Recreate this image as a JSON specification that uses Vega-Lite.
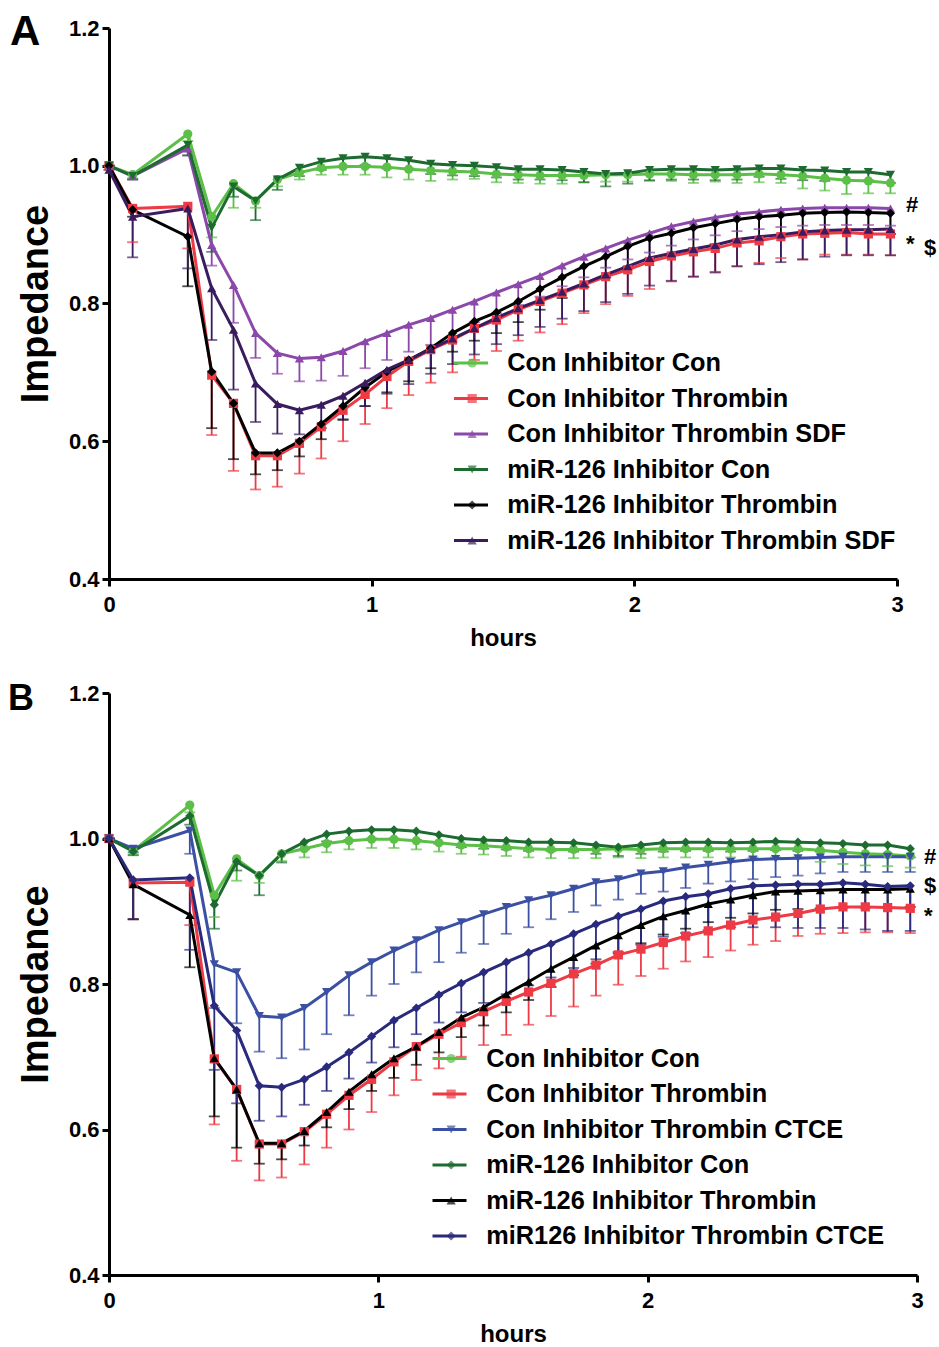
{
"$schema": "https://vega.github.io/schema/vega-lite/v6.json",
"background": "white",
"padding": {"left": 7, "top": 11, "right": 0, "bottom": 0},
"config": {
 "view": {"stroke": null},
 "font": "Liberation Sans",
 "axis": {"domainColor": "black", "domainWidth": 3, "tickColor": "black", "tickWidth": 3, "tickSize": 7, "labelFont": "Liberation Sans", "labelFontSize": 22, "labelFontWeight": "bold", "labelColor": "black", "labelFlush": false, "titleFont": "Liberation Sans", "titleFontWeight": "bold", "titleColor": "black", "grid": false},
 "axisX": {"labelPadding": 8.5, "titleFontSize": 24, "titlePadding": 10.5},
 "axisY": {"labelPadding": 3, "titleFontSize": 38, "titlePadding": 12.5},
 "title": {"font": "Liberation Sans", "fontWeight": "bold", "color": "black"},
 "legend": {"title": null, "orient": "none", "rowPadding": 9.5, "clipHeight": 25, "labelFontSize": 25.3, "labelFont": "Liberation Sans", "labelFontWeight": "bold", "labelColor": "black", "labelLimit": 600}
},
"spacing": 31,
"resolve": {"scale": {"color": "independent", "stroke": "independent", "shape": "independent", "x": "independent", "y": "independent"}, "legend": {"color": "independent", "stroke": "independent", "shape": "independent"}},
"datasets": {
"A": [
{"s":"Con Inhibitor Con","t":0,"v":1,"lo":1},
{"s":"Con Inhibitor Con","t":0.09,"v":0.987,"lo":0.982},
{"s":"Con Inhibitor Con","t":0.3,"v":1.046,"lo":1.036},
{"s":"Con Inhibitor Con","t":0.391,"v":0.926,"lo":0.896},
{"s":"Con Inhibitor Con","t":0.474,"v":0.974,"lo":0.939},
{"s":"Con Inhibitor Con","t":0.558,"v":0.949,"lo":0.939},
{"s":"Con Inhibitor Con","t":0.641,"v":0.98,"lo":0.97},
{"s":"Con Inhibitor Con","t":0.725,"v":0.99,"lo":0.98},
{"s":"Con Inhibitor Con","t":0.808,"v":0.997,"lo":0.987},
{"s":"Con Inhibitor Con","t":0.891,"v":0.999,"lo":0.987},
{"s":"Con Inhibitor Con","t":0.975,"v":0.999,"lo":0.987},
{"s":"Con Inhibitor Con","t":1.058,"v":0.998,"lo":0.983},
{"s":"Con Inhibitor Con","t":1.141,"v":0.995,"lo":0.98},
{"s":"Con Inhibitor Con","t":1.225,"v":0.993,"lo":0.978},
{"s":"Con Inhibitor Con","t":1.308,"v":0.992,"lo":0.98},
{"s":"Con Inhibitor Con","t":1.391,"v":0.991,"lo":0.981},
{"s":"Con Inhibitor Con","t":1.475,"v":0.988,"lo":0.976},
{"s":"Con Inhibitor Con","t":1.558,"v":0.987,"lo":0.975},
{"s":"Con Inhibitor Con","t":1.641,"v":0.986,"lo":0.974},
{"s":"Con Inhibitor Con","t":1.725,"v":0.986,"lo":0.974},
{"s":"Con Inhibitor Con","t":1.808,"v":0.986,"lo":0.976},
{"s":"Con Inhibitor Con","t":1.891,"v":0.987,"lo":0.977},
{"s":"Con Inhibitor Con","t":1.975,"v":0.987,"lo":0.977},
{"s":"Con Inhibitor Con","t":2.058,"v":0.988,"lo":0.978},
{"s":"Con Inhibitor Con","t":2.141,"v":0.988,"lo":0.978},
{"s":"Con Inhibitor Con","t":2.225,"v":0.987,"lo":0.975},
{"s":"Con Inhibitor Con","t":2.308,"v":0.987,"lo":0.977},
{"s":"Con Inhibitor Con","t":2.391,"v":0.987,"lo":0.975},
{"s":"Con Inhibitor Con","t":2.475,"v":0.988,"lo":0.976},
{"s":"Con Inhibitor Con","t":2.558,"v":0.987,"lo":0.975},
{"s":"Con Inhibitor Con","t":2.641,"v":0.985,"lo":0.967},
{"s":"Con Inhibitor Con","t":2.725,"v":0.982,"lo":0.964},
{"s":"Con Inhibitor Con","t":2.808,"v":0.979,"lo":0.959},
{"s":"Con Inhibitor Con","t":2.891,"v":0.978,"lo":0.96},
{"s":"Con Inhibitor Con","t":2.975,"v":0.975,"lo":0.96},
{"s":"Con Inhibitor Thrombin","t":0,"v":1,"lo":1},
{"s":"Con Inhibitor Thrombin","t":0.09,"v":0.938,"lo":0.889},
{"s":"Con Inhibitor Thrombin","t":0.3,"v":0.941,"lo":0.88},
{"s":"Con Inhibitor Thrombin","t":0.391,"v":0.696,"lo":0.609},
{"s":"Con Inhibitor Thrombin","t":0.474,"v":0.655,"lo":0.557},
{"s":"Con Inhibitor Thrombin","t":0.558,"v":0.579,"lo":0.53},
{"s":"Con Inhibitor Thrombin","t":0.641,"v":0.579,"lo":0.534},
{"s":"Con Inhibitor Thrombin","t":0.725,"v":0.597,"lo":0.553},
{"s":"Con Inhibitor Thrombin","t":0.808,"v":0.621,"lo":0.575},
{"s":"Con Inhibitor Thrombin","t":0.891,"v":0.645,"lo":0.6},
{"s":"Con Inhibitor Thrombin","t":0.975,"v":0.668,"lo":0.625},
{"s":"Con Inhibitor Thrombin","t":1.058,"v":0.694,"lo":0.648},
{"s":"Con Inhibitor Thrombin","t":1.141,"v":0.716,"lo":0.667},
{"s":"Con Inhibitor Thrombin","t":1.225,"v":0.733,"lo":0.685},
{"s":"Con Inhibitor Thrombin","t":1.308,"v":0.747,"lo":0.7},
{"s":"Con Inhibitor Thrombin","t":1.391,"v":0.764,"lo":0.718},
{"s":"Con Inhibitor Thrombin","t":1.475,"v":0.776,"lo":0.731},
{"s":"Con Inhibitor Thrombin","t":1.558,"v":0.791,"lo":0.746},
{"s":"Con Inhibitor Thrombin","t":1.641,"v":0.803,"lo":0.758},
{"s":"Con Inhibitor Thrombin","t":1.725,"v":0.815,"lo":0.77},
{"s":"Con Inhibitor Thrombin","t":1.808,"v":0.827,"lo":0.786},
{"s":"Con Inhibitor Thrombin","t":1.891,"v":0.839,"lo":0.799},
{"s":"Con Inhibitor Thrombin","t":1.975,"v":0.849,"lo":0.811},
{"s":"Con Inhibitor Thrombin","t":2.058,"v":0.861,"lo":0.821},
{"s":"Con Inhibitor Thrombin","t":2.141,"v":0.869,"lo":0.832},
{"s":"Con Inhibitor Thrombin","t":2.225,"v":0.875,"lo":0.839},
{"s":"Con Inhibitor Thrombin","t":2.308,"v":0.88,"lo":0.846},
{"s":"Con Inhibitor Thrombin","t":2.391,"v":0.888,"lo":0.854},
{"s":"Con Inhibitor Thrombin","t":2.475,"v":0.891,"lo":0.859},
{"s":"Con Inhibitor Thrombin","t":2.558,"v":0.897,"lo":0.866},
{"s":"Con Inhibitor Thrombin","t":2.641,"v":0.901,"lo":0.864},
{"s":"Con Inhibitor Thrombin","t":2.725,"v":0.902,"lo":0.871},
{"s":"Con Inhibitor Thrombin","t":2.808,"v":0.903,"lo":0.871},
{"s":"Con Inhibitor Thrombin","t":2.891,"v":0.901,"lo":0.871},
{"s":"Con Inhibitor Thrombin","t":2.975,"v":0.901,"lo":0.87},
{"s":"Con Inhibitor Thrombin SDF","t":0,"v":1,"lo":1},
{"s":"Con Inhibitor Thrombin SDF","t":0.09,"v":0.985,"lo":0.98},
{"s":"Con Inhibitor Thrombin SDF","t":0.3,"v":1.025,"lo":1.015},
{"s":"Con Inhibitor Thrombin SDF","t":0.391,"v":0.885,"lo":0.855},
{"s":"Con Inhibitor Thrombin SDF","t":0.474,"v":0.827,"lo":0.772},
{"s":"Con Inhibitor Thrombin SDF","t":0.558,"v":0.757,"lo":0.721},
{"s":"Con Inhibitor Thrombin SDF","t":0.641,"v":0.728,"lo":0.698},
{"s":"Con Inhibitor Thrombin SDF","t":0.725,"v":0.72,"lo":0.687},
{"s":"Con Inhibitor Thrombin SDF","t":0.808,"v":0.722,"lo":0.688},
{"s":"Con Inhibitor Thrombin SDF","t":0.891,"v":0.731,"lo":0.695},
{"s":"Con Inhibitor Thrombin SDF","t":0.975,"v":0.745,"lo":0.706},
{"s":"Con Inhibitor Thrombin SDF","t":1.058,"v":0.757,"lo":0.718},
{"s":"Con Inhibitor Thrombin SDF","t":1.141,"v":0.769,"lo":0.73},
{"s":"Con Inhibitor Thrombin SDF","t":1.225,"v":0.779,"lo":0.74},
{"s":"Con Inhibitor Thrombin SDF","t":1.308,"v":0.791,"lo":0.752},
{"s":"Con Inhibitor Thrombin SDF","t":1.391,"v":0.803,"lo":0.773},
{"s":"Con Inhibitor Thrombin SDF","t":1.475,"v":0.816,"lo":0.786},
{"s":"Con Inhibitor Thrombin SDF","t":1.558,"v":0.828,"lo":0.798},
{"s":"Con Inhibitor Thrombin SDF","t":1.641,"v":0.84,"lo":0.81},
{"s":"Con Inhibitor Thrombin SDF","t":1.725,"v":0.855,"lo":0.825},
{"s":"Con Inhibitor Thrombin SDF","t":1.808,"v":0.868,"lo":0.838},
{"s":"Con Inhibitor Thrombin SDF","t":1.891,"v":0.88,"lo":0.852},
{"s":"Con Inhibitor Thrombin SDF","t":1.975,"v":0.892,"lo":0.864},
{"s":"Con Inhibitor Thrombin SDF","t":2.058,"v":0.902,"lo":0.874},
{"s":"Con Inhibitor Thrombin SDF","t":2.141,"v":0.912,"lo":0.884},
{"s":"Con Inhibitor Thrombin SDF","t":2.225,"v":0.919,"lo":0.893},
{"s":"Con Inhibitor Thrombin SDF","t":2.308,"v":0.925,"lo":0.899},
{"s":"Con Inhibitor Thrombin SDF","t":2.391,"v":0.93,"lo":0.905},
{"s":"Con Inhibitor Thrombin SDF","t":2.475,"v":0.933,"lo":0.908},
{"s":"Con Inhibitor Thrombin SDF","t":2.558,"v":0.936,"lo":0.911},
{"s":"Con Inhibitor Thrombin SDF","t":2.641,"v":0.938,"lo":0.913},
{"s":"Con Inhibitor Thrombin SDF","t":2.725,"v":0.939,"lo":0.914},
{"s":"Con Inhibitor Thrombin SDF","t":2.808,"v":0.939,"lo":0.914},
{"s":"Con Inhibitor Thrombin SDF","t":2.891,"v":0.939,"lo":0.914},
{"s":"Con Inhibitor Thrombin SDF","t":2.975,"v":0.938,"lo":0.913},
{"s":"miR-126 Inhibitor Con","t":0,"v":1,"lo":1},
{"s":"miR-126 Inhibitor Con","t":0.09,"v":0.985,"lo":0.98},
{"s":"miR-126 Inhibitor Con","t":0.3,"v":1.03,"lo":1.015},
{"s":"miR-126 Inhibitor Con","t":0.391,"v":0.91,"lo":0.875},
{"s":"miR-126 Inhibitor Con","t":0.474,"v":0.97,"lo":0.955},
{"s":"miR-126 Inhibitor Con","t":0.558,"v":0.949,"lo":0.921},
{"s":"miR-126 Inhibitor Con","t":0.641,"v":0.98,"lo":0.965},
{"s":"miR-126 Inhibitor Con","t":0.725,"v":0.997,"lo":0.985},
{"s":"miR-126 Inhibitor Con","t":0.808,"v":1.006,"lo":0.994},
{"s":"miR-126 Inhibitor Con","t":0.891,"v":1.011,"lo":0.999},
{"s":"miR-126 Inhibitor Con","t":0.975,"v":1.013,"lo":1.001},
{"s":"miR-126 Inhibitor Con","t":1.058,"v":1.011,"lo":0.996},
{"s":"miR-126 Inhibitor Con","t":1.141,"v":1.008,"lo":0.996},
{"s":"miR-126 Inhibitor Con","t":1.225,"v":1.003,"lo":0.988},
{"s":"miR-126 Inhibitor Con","t":1.308,"v":1.001,"lo":0.986},
{"s":"miR-126 Inhibitor Con","t":1.391,"v":1,"lo":0.985},
{"s":"miR-126 Inhibitor Con","t":1.475,"v":0.998,"lo":0.983},
{"s":"miR-126 Inhibitor Con","t":1.558,"v":0.995,"lo":0.98},
{"s":"miR-126 Inhibitor Con","t":1.641,"v":0.995,"lo":0.98},
{"s":"miR-126 Inhibitor Con","t":1.725,"v":0.994,"lo":0.979},
{"s":"miR-126 Inhibitor Con","t":1.808,"v":0.991,"lo":0.976},
{"s":"miR-126 Inhibitor Con","t":1.891,"v":0.988,"lo":0.97},
{"s":"miR-126 Inhibitor Con","t":1.975,"v":0.989,"lo":0.974},
{"s":"miR-126 Inhibitor Con","t":2.058,"v":0.994,"lo":0.979},
{"s":"miR-126 Inhibitor Con","t":2.141,"v":0.995,"lo":0.98},
{"s":"miR-126 Inhibitor Con","t":2.225,"v":0.995,"lo":0.98},
{"s":"miR-126 Inhibitor Con","t":2.308,"v":0.994,"lo":0.979},
{"s":"miR-126 Inhibitor Con","t":2.391,"v":0.995,"lo":0.98},
{"s":"miR-126 Inhibitor Con","t":2.475,"v":0.996,"lo":0.984},
{"s":"miR-126 Inhibitor Con","t":2.558,"v":0.996,"lo":0.981},
{"s":"miR-126 Inhibitor Con","t":2.641,"v":0.994,"lo":0.979},
{"s":"miR-126 Inhibitor Con","t":2.725,"v":0.993,"lo":0.978},
{"s":"miR-126 Inhibitor Con","t":2.808,"v":0.991,"lo":0.979},
{"s":"miR-126 Inhibitor Con","t":2.891,"v":0.991,"lo":0.979},
{"s":"miR-126 Inhibitor Con","t":2.975,"v":0.987,"lo":0.975},
{"s":"miR-126 Inhibitor Thrombin","t":0,"v":1,"lo":1},
{"s":"miR-126 Inhibitor Thrombin","t":0.09,"v":0.936,"lo":0.926},
{"s":"miR-126 Inhibitor Thrombin","t":0.3,"v":0.897,"lo":0.825},
{"s":"miR-126 Inhibitor Thrombin","t":0.391,"v":0.701,"lo":0.619},
{"s":"miR-126 Inhibitor Thrombin","t":0.474,"v":0.655,"lo":0.574},
{"s":"miR-126 Inhibitor Thrombin","t":0.558,"v":0.583,"lo":0.552},
{"s":"miR-126 Inhibitor Thrombin","t":0.641,"v":0.583,"lo":0.558},
{"s":"miR-126 Inhibitor Thrombin","t":0.725,"v":0.6,"lo":0.578},
{"s":"miR-126 Inhibitor Thrombin","t":0.808,"v":0.625,"lo":0.603},
{"s":"miR-126 Inhibitor Thrombin","t":0.891,"v":0.651,"lo":0.631},
{"s":"miR-126 Inhibitor Thrombin","t":0.975,"v":0.678,"lo":0.651},
{"s":"miR-126 Inhibitor Thrombin","t":1.058,"v":0.701,"lo":0.671},
{"s":"miR-126 Inhibitor Thrombin","t":1.141,"v":0.718,"lo":0.687},
{"s":"miR-126 Inhibitor Thrombin","t":1.225,"v":0.735,"lo":0.706},
{"s":"miR-126 Inhibitor Thrombin","t":1.308,"v":0.757,"lo":0.73},
{"s":"miR-126 Inhibitor Thrombin","t":1.391,"v":0.774,"lo":0.746},
{"s":"miR-126 Inhibitor Thrombin","t":1.475,"v":0.787,"lo":0.757},
{"s":"miR-126 Inhibitor Thrombin","t":1.558,"v":0.803,"lo":0.773},
{"s":"miR-126 Inhibitor Thrombin","t":1.641,"v":0.821,"lo":0.791},
{"s":"miR-126 Inhibitor Thrombin","t":1.725,"v":0.838,"lo":0.808},
{"s":"miR-126 Inhibitor Thrombin","t":1.808,"v":0.854,"lo":0.824},
{"s":"miR-126 Inhibitor Thrombin","t":1.891,"v":0.868,"lo":0.838},
{"s":"miR-126 Inhibitor Thrombin","t":1.975,"v":0.883,"lo":0.853},
{"s":"miR-126 Inhibitor Thrombin","t":2.058,"v":0.895,"lo":0.865},
{"s":"miR-126 Inhibitor Thrombin","t":2.141,"v":0.902,"lo":0.872},
{"s":"miR-126 Inhibitor Thrombin","t":2.225,"v":0.91,"lo":0.88},
{"s":"miR-126 Inhibitor Thrombin","t":2.308,"v":0.916,"lo":0.886},
{"s":"miR-126 Inhibitor Thrombin","t":2.391,"v":0.922,"lo":0.892},
{"s":"miR-126 Inhibitor Thrombin","t":2.475,"v":0.926,"lo":0.896},
{"s":"miR-126 Inhibitor Thrombin","t":2.558,"v":0.928,"lo":0.898},
{"s":"miR-126 Inhibitor Thrombin","t":2.641,"v":0.931,"lo":0.901},
{"s":"miR-126 Inhibitor Thrombin","t":2.725,"v":0.932,"lo":0.902},
{"s":"miR-126 Inhibitor Thrombin","t":2.808,"v":0.933,"lo":0.903},
{"s":"miR-126 Inhibitor Thrombin","t":2.891,"v":0.932,"lo":0.902},
{"s":"miR-126 Inhibitor Thrombin","t":2.975,"v":0.931,"lo":0.901},
{"s":"miR-126 Inhibitor Thrombin SDF","t":0,"v":0.994,"lo":0.994},
{"s":"miR-126 Inhibitor Thrombin SDF","t":0.09,"v":0.926,"lo":0.867},
{"s":"miR-126 Inhibitor Thrombin SDF","t":0.3,"v":0.938,"lo":0.851},
{"s":"miR-126 Inhibitor Thrombin SDF","t":0.391,"v":0.822,"lo":0.747},
{"s":"miR-126 Inhibitor Thrombin SDF","t":0.474,"v":0.762,"lo":0.675},
{"s":"miR-126 Inhibitor Thrombin SDF","t":0.558,"v":0.684,"lo":0.628},
{"s":"miR-126 Inhibitor Thrombin SDF","t":0.641,"v":0.654,"lo":0.611},
{"s":"miR-126 Inhibitor Thrombin SDF","t":0.725,"v":0.645,"lo":0.61},
{"s":"miR-126 Inhibitor Thrombin SDF","t":0.808,"v":0.653,"lo":0.619},
{"s":"miR-126 Inhibitor Thrombin SDF","t":0.891,"v":0.666,"lo":0.632},
{"s":"miR-126 Inhibitor Thrombin SDF","t":0.975,"v":0.685,"lo":0.651},
{"s":"miR-126 Inhibitor Thrombin SDF","t":1.058,"v":0.704,"lo":0.669},
{"s":"miR-126 Inhibitor Thrombin SDF","t":1.141,"v":0.718,"lo":0.683},
{"s":"miR-126 Inhibitor Thrombin SDF","t":1.225,"v":0.734,"lo":0.698},
{"s":"miR-126 Inhibitor Thrombin SDF","t":1.308,"v":0.749,"lo":0.712},
{"s":"miR-126 Inhibitor Thrombin SDF","t":1.391,"v":0.764,"lo":0.726},
{"s":"miR-126 Inhibitor Thrombin SDF","t":1.475,"v":0.779,"lo":0.741},
{"s":"miR-126 Inhibitor Thrombin SDF","t":1.558,"v":0.793,"lo":0.754},
{"s":"miR-126 Inhibitor Thrombin SDF","t":1.641,"v":0.805,"lo":0.766},
{"s":"miR-126 Inhibitor Thrombin SDF","t":1.725,"v":0.817,"lo":0.778},
{"s":"miR-126 Inhibitor Thrombin SDF","t":1.808,"v":0.829,"lo":0.789},
{"s":"miR-126 Inhibitor Thrombin SDF","t":1.891,"v":0.842,"lo":0.802},
{"s":"miR-126 Inhibitor Thrombin SDF","t":1.975,"v":0.854,"lo":0.814},
{"s":"miR-126 Inhibitor Thrombin SDF","t":2.058,"v":0.866,"lo":0.826},
{"s":"miR-126 Inhibitor Thrombin SDF","t":2.141,"v":0.873,"lo":0.833},
{"s":"miR-126 Inhibitor Thrombin SDF","t":2.225,"v":0.879,"lo":0.839},
{"s":"miR-126 Inhibitor Thrombin SDF","t":2.308,"v":0.885,"lo":0.845},
{"s":"miR-126 Inhibitor Thrombin SDF","t":2.391,"v":0.893,"lo":0.854},
{"s":"miR-126 Inhibitor Thrombin SDF","t":2.475,"v":0.897,"lo":0.857},
{"s":"miR-126 Inhibitor Thrombin SDF","t":2.558,"v":0.9,"lo":0.86},
{"s":"miR-126 Inhibitor Thrombin SDF","t":2.641,"v":0.904,"lo":0.864},
{"s":"miR-126 Inhibitor Thrombin SDF","t":2.725,"v":0.906,"lo":0.868},
{"s":"miR-126 Inhibitor Thrombin SDF","t":2.808,"v":0.907,"lo":0.87},
{"s":"miR-126 Inhibitor Thrombin SDF","t":2.891,"v":0.907,"lo":0.87},
{"s":"miR-126 Inhibitor Thrombin SDF","t":2.975,"v":0.908,"lo":0.87}
],
"B": [
{"s":"Con Inhibitor Con","t":0,"v":1,"lo":1},
{"s":"Con Inhibitor Con","t":0.09,"v":0.983,"lo":0.978},
{"s":"Con Inhibitor Con","t":0.3,"v":1.046,"lo":1.036},
{"s":"Con Inhibitor Con","t":0.391,"v":0.922,"lo":0.892},
{"s":"Con Inhibitor Con","t":0.474,"v":0.972,"lo":0.942},
{"s":"Con Inhibitor Con","t":0.558,"v":0.949,"lo":0.939},
{"s":"Con Inhibitor Con","t":0.641,"v":0.979,"lo":0.969},
{"s":"Con Inhibitor Con","t":0.725,"v":0.986,"lo":0.974},
{"s":"Con Inhibitor Con","t":0.808,"v":0.993,"lo":0.981},
{"s":"Con Inhibitor Con","t":0.891,"v":0.997,"lo":0.985},
{"s":"Con Inhibitor Con","t":0.975,"v":0.999,"lo":0.987},
{"s":"Con Inhibitor Con","t":1.058,"v":0.999,"lo":0.987},
{"s":"Con Inhibitor Con","t":1.141,"v":0.997,"lo":0.985},
{"s":"Con Inhibitor Con","t":1.225,"v":0.994,"lo":0.982},
{"s":"Con Inhibitor Con","t":1.308,"v":0.991,"lo":0.979},
{"s":"Con Inhibitor Con","t":1.391,"v":0.99,"lo":0.978},
{"s":"Con Inhibitor Con","t":1.475,"v":0.988,"lo":0.976},
{"s":"Con Inhibitor Con","t":1.558,"v":0.986,"lo":0.974},
{"s":"Con Inhibitor Con","t":1.641,"v":0.985,"lo":0.973},
{"s":"Con Inhibitor Con","t":1.725,"v":0.985,"lo":0.973},
{"s":"Con Inhibitor Con","t":1.808,"v":0.985,"lo":0.973},
{"s":"Con Inhibitor Con","t":1.891,"v":0.986,"lo":0.974},
{"s":"Con Inhibitor Con","t":1.975,"v":0.985,"lo":0.973},
{"s":"Con Inhibitor Con","t":2.058,"v":0.986,"lo":0.974},
{"s":"Con Inhibitor Con","t":2.141,"v":0.986,"lo":0.974},
{"s":"Con Inhibitor Con","t":2.225,"v":0.986,"lo":0.974},
{"s":"Con Inhibitor Con","t":2.308,"v":0.986,"lo":0.974},
{"s":"Con Inhibitor Con","t":2.391,"v":0.986,"lo":0.974},
{"s":"Con Inhibitor Con","t":2.475,"v":0.986,"lo":0.974},
{"s":"Con Inhibitor Con","t":2.558,"v":0.986,"lo":0.974},
{"s":"Con Inhibitor Con","t":2.641,"v":0.984,"lo":0.968},
{"s":"Con Inhibitor Con","t":2.725,"v":0.981,"lo":0.965},
{"s":"Con Inhibitor Con","t":2.808,"v":0.979,"lo":0.963},
{"s":"Con Inhibitor Con","t":2.891,"v":0.978,"lo":0.962},
{"s":"Con Inhibitor Con","t":2.975,"v":0.976,"lo":0.96},
{"s":"Con Inhibitor Thrombin","t":0,"v":1,"lo":1},
{"s":"Con Inhibitor Thrombin","t":0.09,"v":0.939,"lo":0.889},
{"s":"Con Inhibitor Thrombin","t":0.3,"v":0.94,"lo":0.881},
{"s":"Con Inhibitor Thrombin","t":0.391,"v":0.697,"lo":0.607},
{"s":"Con Inhibitor Thrombin","t":0.474,"v":0.655,"lo":0.557},
{"s":"Con Inhibitor Thrombin","t":0.558,"v":0.58,"lo":0.53},
{"s":"Con Inhibitor Thrombin","t":0.641,"v":0.58,"lo":0.534},
{"s":"Con Inhibitor Thrombin","t":0.725,"v":0.597,"lo":0.552},
{"s":"Con Inhibitor Thrombin","t":0.808,"v":0.621,"lo":0.575},
{"s":"Con Inhibitor Thrombin","t":0.891,"v":0.647,"lo":0.6},
{"s":"Con Inhibitor Thrombin","t":0.975,"v":0.669,"lo":0.624},
{"s":"Con Inhibitor Thrombin","t":1.058,"v":0.693,"lo":0.647},
{"s":"Con Inhibitor Thrombin","t":1.141,"v":0.714,"lo":0.668},
{"s":"Con Inhibitor Thrombin","t":1.225,"v":0.731,"lo":0.684},
{"s":"Con Inhibitor Thrombin","t":1.308,"v":0.747,"lo":0.7},
{"s":"Con Inhibitor Thrombin","t":1.391,"v":0.762,"lo":0.716},
{"s":"Con Inhibitor Thrombin","t":1.475,"v":0.776,"lo":0.73},
{"s":"Con Inhibitor Thrombin","t":1.558,"v":0.789,"lo":0.744},
{"s":"Con Inhibitor Thrombin","t":1.641,"v":0.801,"lo":0.756},
{"s":"Con Inhibitor Thrombin","t":1.725,"v":0.814,"lo":0.769},
{"s":"Con Inhibitor Thrombin","t":1.808,"v":0.826,"lo":0.784},
{"s":"Con Inhibitor Thrombin","t":1.891,"v":0.84,"lo":0.799},
{"s":"Con Inhibitor Thrombin","t":1.975,"v":0.848,"lo":0.811},
{"s":"Con Inhibitor Thrombin","t":2.058,"v":0.857,"lo":0.821},
{"s":"Con Inhibitor Thrombin","t":2.141,"v":0.866,"lo":0.831},
{"s":"Con Inhibitor Thrombin","t":2.225,"v":0.873,"lo":0.837},
{"s":"Con Inhibitor Thrombin","t":2.308,"v":0.881,"lo":0.846},
{"s":"Con Inhibitor Thrombin","t":2.391,"v":0.888,"lo":0.854},
{"s":"Con Inhibitor Thrombin","t":2.475,"v":0.892,"lo":0.859},
{"s":"Con Inhibitor Thrombin","t":2.558,"v":0.897,"lo":0.866},
{"s":"Con Inhibitor Thrombin","t":2.641,"v":0.903,"lo":0.869},
{"s":"Con Inhibitor Thrombin","t":2.725,"v":0.906,"lo":0.87},
{"s":"Con Inhibitor Thrombin","t":2.808,"v":0.906,"lo":0.871},
{"s":"Con Inhibitor Thrombin","t":2.891,"v":0.905,"lo":0.871},
{"s":"Con Inhibitor Thrombin","t":2.975,"v":0.904,"lo":0.87},
{"s":"Con Inhibitor Thrombin CTCE","t":0,"v":1,"lo":1},
{"s":"Con Inhibitor Thrombin CTCE","t":0.09,"v":0.986,"lo":0.981},
{"s":"Con Inhibitor Thrombin CTCE","t":0.3,"v":1.011,"lo":0.979},
{"s":"Con Inhibitor Thrombin CTCE","t":0.391,"v":0.827,"lo":0.767},
{"s":"Con Inhibitor Thrombin CTCE","t":0.474,"v":0.816,"lo":0.746},
{"s":"Con Inhibitor Thrombin CTCE","t":0.558,"v":0.756,"lo":0.707},
{"s":"Con Inhibitor Thrombin CTCE","t":0.641,"v":0.754,"lo":0.698},
{"s":"Con Inhibitor Thrombin CTCE","t":0.725,"v":0.767,"lo":0.71},
{"s":"Con Inhibitor Thrombin CTCE","t":0.808,"v":0.789,"lo":0.731},
{"s":"Con Inhibitor Thrombin CTCE","t":0.891,"v":0.812,"lo":0.757},
{"s":"Con Inhibitor Thrombin CTCE","t":0.975,"v":0.83,"lo":0.784},
{"s":"Con Inhibitor Thrombin CTCE","t":1.058,"v":0.846,"lo":0.8},
{"s":"Con Inhibitor Thrombin CTCE","t":1.141,"v":0.86,"lo":0.816},
{"s":"Con Inhibitor Thrombin CTCE","t":1.225,"v":0.874,"lo":0.83},
{"s":"Con Inhibitor Thrombin CTCE","t":1.308,"v":0.885,"lo":0.843},
{"s":"Con Inhibitor Thrombin CTCE","t":1.391,"v":0.896,"lo":0.855},
{"s":"Con Inhibitor Thrombin CTCE","t":1.475,"v":0.906,"lo":0.869},
{"s":"Con Inhibitor Thrombin CTCE","t":1.558,"v":0.915,"lo":0.878},
{"s":"Con Inhibitor Thrombin CTCE","t":1.641,"v":0.922,"lo":0.889},
{"s":"Con Inhibitor Thrombin CTCE","t":1.725,"v":0.931,"lo":0.899},
{"s":"Con Inhibitor Thrombin CTCE","t":1.808,"v":0.94,"lo":0.908},
{"s":"Con Inhibitor Thrombin CTCE","t":1.891,"v":0.944,"lo":0.916},
{"s":"Con Inhibitor Thrombin CTCE","t":1.975,"v":0.952,"lo":0.924},
{"s":"Con Inhibitor Thrombin CTCE","t":2.058,"v":0.955,"lo":0.927},
{"s":"Con Inhibitor Thrombin CTCE","t":2.141,"v":0.96,"lo":0.932},
{"s":"Con Inhibitor Thrombin CTCE","t":2.225,"v":0.964,"lo":0.938},
{"s":"Con Inhibitor Thrombin CTCE","t":2.308,"v":0.968,"lo":0.941},
{"s":"Con Inhibitor Thrombin CTCE","t":2.391,"v":0.971,"lo":0.944},
{"s":"Con Inhibitor Thrombin CTCE","t":2.475,"v":0.972,"lo":0.947},
{"s":"Con Inhibitor Thrombin CTCE","t":2.558,"v":0.973,"lo":0.949},
{"s":"Con Inhibitor Thrombin CTCE","t":2.641,"v":0.974,"lo":0.952},
{"s":"Con Inhibitor Thrombin CTCE","t":2.725,"v":0.975,"lo":0.954},
{"s":"Con Inhibitor Thrombin CTCE","t":2.808,"v":0.975,"lo":0.954},
{"s":"Con Inhibitor Thrombin CTCE","t":2.891,"v":0.975,"lo":0.954},
{"s":"Con Inhibitor Thrombin CTCE","t":2.975,"v":0.975,"lo":0.954},
{"s":"miR-126 Inhibitor Con","t":0,"v":1,"lo":1},
{"s":"miR-126 Inhibitor Con","t":0.09,"v":0.982,"lo":0.977},
{"s":"miR-126 Inhibitor Con","t":0.3,"v":1.031,"lo":1.019},
{"s":"miR-126 Inhibitor Con","t":0.391,"v":0.909,"lo":0.876},
{"s":"miR-126 Inhibitor Con","t":0.474,"v":0.968,"lo":0.956},
{"s":"miR-126 Inhibitor Con","t":0.558,"v":0.949,"lo":0.922},
{"s":"miR-126 Inhibitor Con","t":0.641,"v":0.979,"lo":0.967},
{"s":"miR-126 Inhibitor Con","t":0.725,"v":0.995,"lo":0.985},
{"s":"miR-126 Inhibitor Con","t":0.808,"v":1.006,"lo":0.996},
{"s":"miR-126 Inhibitor Con","t":0.891,"v":1.01,"lo":0.998},
{"s":"miR-126 Inhibitor Con","t":0.975,"v":1.012,"lo":1},
{"s":"miR-126 Inhibitor Con","t":1.058,"v":1.012,"lo":1},
{"s":"miR-126 Inhibitor Con","t":1.141,"v":1.01,"lo":0.998},
{"s":"miR-126 Inhibitor Con","t":1.225,"v":1.005,"lo":0.993},
{"s":"miR-126 Inhibitor Con","t":1.308,"v":1,"lo":0.988},
{"s":"miR-126 Inhibitor Con","t":1.391,"v":0.998,"lo":0.986},
{"s":"miR-126 Inhibitor Con","t":1.475,"v":0.997,"lo":0.985},
{"s":"miR-126 Inhibitor Con","t":1.558,"v":0.995,"lo":0.983},
{"s":"miR-126 Inhibitor Con","t":1.641,"v":0.995,"lo":0.983},
{"s":"miR-126 Inhibitor Con","t":1.725,"v":0.994,"lo":0.982},
{"s":"miR-126 Inhibitor Con","t":1.808,"v":0.991,"lo":0.979},
{"s":"miR-126 Inhibitor Con","t":1.891,"v":0.988,"lo":0.976},
{"s":"miR-126 Inhibitor Con","t":1.975,"v":0.991,"lo":0.979},
{"s":"miR-126 Inhibitor Con","t":2.058,"v":0.994,"lo":0.982},
{"s":"miR-126 Inhibitor Con","t":2.141,"v":0.995,"lo":0.983},
{"s":"miR-126 Inhibitor Con","t":2.225,"v":0.995,"lo":0.983},
{"s":"miR-126 Inhibitor Con","t":2.308,"v":0.994,"lo":0.982},
{"s":"miR-126 Inhibitor Con","t":2.391,"v":0.995,"lo":0.983},
{"s":"miR-126 Inhibitor Con","t":2.475,"v":0.996,"lo":0.984},
{"s":"miR-126 Inhibitor Con","t":2.558,"v":0.995,"lo":0.983},
{"s":"miR-126 Inhibitor Con","t":2.641,"v":0.994,"lo":0.982},
{"s":"miR-126 Inhibitor Con","t":2.725,"v":0.993,"lo":0.981},
{"s":"miR-126 Inhibitor Con","t":2.808,"v":0.991,"lo":0.979},
{"s":"miR-126 Inhibitor Con","t":2.891,"v":0.991,"lo":0.979},
{"s":"miR-126 Inhibitor Con","t":2.975,"v":0.986,"lo":0.974},
{"s":"miR-126 Inhibitor Thrombin","t":0,"v":1,"lo":1},
{"s":"miR-126 Inhibitor Thrombin","t":0.09,"v":0.937,"lo":0.889},
{"s":"miR-126 Inhibitor Thrombin","t":0.3,"v":0.895,"lo":0.823},
{"s":"miR-126 Inhibitor Thrombin","t":0.391,"v":0.698,"lo":0.618},
{"s":"miR-126 Inhibitor Thrombin","t":0.474,"v":0.655,"lo":0.575},
{"s":"miR-126 Inhibitor Thrombin","t":0.558,"v":0.581,"lo":0.553},
{"s":"miR-126 Inhibitor Thrombin","t":0.641,"v":0.581,"lo":0.559},
{"s":"miR-126 Inhibitor Thrombin","t":0.725,"v":0.598,"lo":0.578},
{"s":"miR-126 Inhibitor Thrombin","t":0.808,"v":0.624,"lo":0.603},
{"s":"miR-126 Inhibitor Thrombin","t":0.891,"v":0.652,"lo":0.628},
{"s":"miR-126 Inhibitor Thrombin","t":0.975,"v":0.676,"lo":0.653},
{"s":"miR-126 Inhibitor Thrombin","t":1.058,"v":0.698,"lo":0.671},
{"s":"miR-126 Inhibitor Thrombin","t":1.141,"v":0.714,"lo":0.689},
{"s":"miR-126 Inhibitor Thrombin","t":1.225,"v":0.734,"lo":0.706},
{"s":"miR-126 Inhibitor Thrombin","t":1.308,"v":0.754,"lo":0.727},
{"s":"miR-126 Inhibitor Thrombin","t":1.391,"v":0.768,"lo":0.743},
{"s":"miR-126 Inhibitor Thrombin","t":1.475,"v":0.786,"lo":0.761},
{"s":"miR-126 Inhibitor Thrombin","t":1.558,"v":0.803,"lo":0.778},
{"s":"miR-126 Inhibitor Thrombin","t":1.641,"v":0.821,"lo":0.796},
{"s":"miR-126 Inhibitor Thrombin","t":1.725,"v":0.837,"lo":0.812},
{"s":"miR-126 Inhibitor Thrombin","t":1.808,"v":0.853,"lo":0.828},
{"s":"miR-126 Inhibitor Thrombin","t":1.891,"v":0.867,"lo":0.842},
{"s":"miR-126 Inhibitor Thrombin","t":1.975,"v":0.881,"lo":0.856},
{"s":"miR-126 Inhibitor Thrombin","t":2.058,"v":0.893,"lo":0.868},
{"s":"miR-126 Inhibitor Thrombin","t":2.141,"v":0.901,"lo":0.876},
{"s":"miR-126 Inhibitor Thrombin","t":2.225,"v":0.91,"lo":0.885},
{"s":"miR-126 Inhibitor Thrombin","t":2.308,"v":0.916,"lo":0.891},
{"s":"miR-126 Inhibitor Thrombin","t":2.391,"v":0.922,"lo":0.897},
{"s":"miR-126 Inhibitor Thrombin","t":2.475,"v":0.927,"lo":0.902},
{"s":"miR-126 Inhibitor Thrombin","t":2.558,"v":0.928,"lo":0.903},
{"s":"miR-126 Inhibitor Thrombin","t":2.641,"v":0.929,"lo":0.904},
{"s":"miR-126 Inhibitor Thrombin","t":2.725,"v":0.93,"lo":0.905},
{"s":"miR-126 Inhibitor Thrombin","t":2.808,"v":0.93,"lo":0.905},
{"s":"miR-126 Inhibitor Thrombin","t":2.891,"v":0.93,"lo":0.905},
{"s":"miR-126 Inhibitor Thrombin","t":2.975,"v":0.931,"lo":0.906},
{"s":"miR126 Inhibitor Thrombin CTCE","t":0,"v":1,"lo":1},
{"s":"miR126 Inhibitor Thrombin CTCE","t":0.09,"v":0.943,"lo":0.889},
{"s":"miR126 Inhibitor Thrombin CTCE","t":0.3,"v":0.946,"lo":0.847},
{"s":"miR126 Inhibitor Thrombin CTCE","t":0.391,"v":0.77,"lo":0.682},
{"s":"miR126 Inhibitor Thrombin CTCE","t":0.474,"v":0.736,"lo":0.636},
{"s":"miR126 Inhibitor Thrombin CTCE","t":0.558,"v":0.66,"lo":0.612},
{"s":"miR126 Inhibitor Thrombin CTCE","t":0.641,"v":0.658,"lo":0.618},
{"s":"miR126 Inhibitor Thrombin CTCE","t":0.725,"v":0.669,"lo":0.634},
{"s":"miR126 Inhibitor Thrombin CTCE","t":0.808,"v":0.686,"lo":0.653},
{"s":"miR126 Inhibitor Thrombin CTCE","t":0.891,"v":0.706,"lo":0.67},
{"s":"miR126 Inhibitor Thrombin CTCE","t":0.975,"v":0.728,"lo":0.692},
{"s":"miR126 Inhibitor Thrombin CTCE","t":1.058,"v":0.75,"lo":0.713},
{"s":"miR126 Inhibitor Thrombin CTCE","t":1.141,"v":0.767,"lo":0.731},
{"s":"miR126 Inhibitor Thrombin CTCE","t":1.225,"v":0.785,"lo":0.747},
{"s":"miR126 Inhibitor Thrombin CTCE","t":1.308,"v":0.801,"lo":0.761},
{"s":"miR126 Inhibitor Thrombin CTCE","t":1.391,"v":0.816,"lo":0.774},
{"s":"miR126 Inhibitor Thrombin CTCE","t":1.475,"v":0.83,"lo":0.786},
{"s":"miR126 Inhibitor Thrombin CTCE","t":1.558,"v":0.843,"lo":0.798},
{"s":"miR126 Inhibitor Thrombin CTCE","t":1.641,"v":0.855,"lo":0.809},
{"s":"miR126 Inhibitor Thrombin CTCE","t":1.725,"v":0.869,"lo":0.822},
{"s":"miR126 Inhibitor Thrombin CTCE","t":1.808,"v":0.882,"lo":0.834},
{"s":"miR126 Inhibitor Thrombin CTCE","t":1.891,"v":0.893,"lo":0.844},
{"s":"miR126 Inhibitor Thrombin CTCE","t":1.975,"v":0.903,"lo":0.854},
{"s":"miR126 Inhibitor Thrombin CTCE","t":2.058,"v":0.914,"lo":0.865},
{"s":"miR126 Inhibitor Thrombin CTCE","t":2.141,"v":0.92,"lo":0.87},
{"s":"miR126 Inhibitor Thrombin CTCE","t":2.225,"v":0.924,"lo":0.874},
{"s":"miR126 Inhibitor Thrombin CTCE","t":2.308,"v":0.931,"lo":0.878},
{"s":"miR126 Inhibitor Thrombin CTCE","t":2.391,"v":0.935,"lo":0.878},
{"s":"miR126 Inhibitor Thrombin CTCE","t":2.475,"v":0.936,"lo":0.878},
{"s":"miR126 Inhibitor Thrombin CTCE","t":2.558,"v":0.937,"lo":0.877},
{"s":"miR126 Inhibitor Thrombin CTCE","t":2.641,"v":0.937,"lo":0.877},
{"s":"miR126 Inhibitor Thrombin CTCE","t":2.725,"v":0.939,"lo":0.877},
{"s":"miR126 Inhibitor Thrombin CTCE","t":2.808,"v":0.937,"lo":0.875},
{"s":"miR126 Inhibitor Thrombin CTCE","t":2.891,"v":0.934,"lo":0.873},
{"s":"miR126 Inhibitor Thrombin CTCE","t":2.975,"v":0.935,"lo":0.873}
]
},
"vconcat": [
{
 "width": 788, "height": 551,
 "title": {"text": "A", "anchor": "start", "frame": "bounds", "fontSize": 42, "baseline": "top", "offset": 0, "dx": -8, "dy": 37},
 "data": {"name": "A"},
 "encoding": {
  "x": {"field": "t", "type": "quantitative", "title": "hours", "scale": {"domain": [0, 3], "nice": false, "zero": false}, "axis": {"values": [0, 1, 2, 3], "format": "d"}}
 },
 "layer": [
  {"mark": {"type": "rule", "strokeWidth": 1.8},
   "encoding": {"y": {"field": "v", "type": "quantitative", "title": "Impedance", "scale": {"domain": [0.4, 1.2], "nice": false, "zero": false}, "axis": {"values": [0.4, 0.6, 0.8, 1.0, 1.2], "format": ".1f"}}, "y2": {"field": "lo"},
    "stroke": {"field": "s", "type": "nominal", "scale": {"domain": ["Con Inhibitor Con", "Con Inhibitor Thrombin", "Con Inhibitor Thrombin SDF", "miR-126 Inhibitor Con", "miR-126 Inhibitor Thrombin", "miR-126 Inhibitor Thrombin SDF", "_"], "range": ["#5cbf47", "#ee3a45", "#8b47a9", "#1e6b31", "#000000", "#3a1c5e", "#ffffff"]},
     "legend": {"values": ["Con Inhibitor Con", "Con Inhibitor Thrombin", "Con Inhibitor Thrombin SDF", "miR-126 Inhibitor Con", "miR-126 Inhibitor Thrombin", "miR-126 Inhibitor Thrombin SDF"], "legendX": 343.5, "legendY": 322.5, "symbolType": "stroke", "symbolSize": 1156, "symbolStrokeWidth": 3, "labelExpr": "''", "labelOffset": 15.5}}}},
  {"mark": {"type": "tick", "orient": "horizontal", "thickness": 1.8, "size": 11},
   "encoding": {"y": {"field": "lo", "type": "quantitative", "title": "Impedance"},
    "color": {"field": "s", "type": "nominal", "scale": {"domain": ["Con Inhibitor Con", "Con Inhibitor Thrombin", "Con Inhibitor Thrombin SDF", "miR-126 Inhibitor Con", "miR-126 Inhibitor Thrombin", "miR-126 Inhibitor Thrombin SDF"], "range": ["#5cbf47", "#ee3a45", "#8b47a9", "#1e6b31", "#000000", "#3a1c5e"]},
     "legend": {"legendX": 350.5, "legendY": 322.5, "symbolSize": 85, "labelOffset": 22.5}}}},
  {"mark": {"type": "line", "strokeWidth": 3},
   "encoding": {"y": {"field": "v", "type": "quantitative", "title": "Impedance"},
    "stroke": {"field": "s", "type": "nominal", "scale": {"domain": ["Con Inhibitor Con", "Con Inhibitor Thrombin", "Con Inhibitor Thrombin SDF", "miR-126 Inhibitor Con", "miR-126 Inhibitor Thrombin", "miR-126 Inhibitor Thrombin SDF", "_"], "range": ["#5cbf47", "#ee3a45", "#8b47a9", "#1e6b31", "#000000", "#3a1c5e", "#ffffff"]},
     "legend": {"values": ["Con Inhibitor Con", "Con Inhibitor Thrombin", "Con Inhibitor Thrombin SDF", "miR-126 Inhibitor Con", "miR-126 Inhibitor Thrombin", "miR-126 Inhibitor Thrombin SDF"], "legendX": 343.5, "legendY": 322.5, "symbolType": "stroke", "symbolSize": 1156, "symbolStrokeWidth": 3, "labelExpr": "''", "labelOffset": 15.5}}}},
  {"mark": {"type": "point", "filled": true, "opacity": 1, "size": 85},
   "encoding": {"y": {"field": "v", "type": "quantitative", "title": "Impedance"},
    "color": {"field": "s", "type": "nominal", "scale": {"domain": ["Con Inhibitor Con", "Con Inhibitor Thrombin", "Con Inhibitor Thrombin SDF", "miR-126 Inhibitor Con", "miR-126 Inhibitor Thrombin", "miR-126 Inhibitor Thrombin SDF"], "range": ["#5cbf47", "#ee3a45", "#8b47a9", "#1e6b31", "#000000", "#3a1c5e"]},
     "legend": {"legendX": 350.5, "legendY": 322.5, "symbolSize": 85, "labelOffset": 22.5}},
    "shape": {"field": "s", "type": "nominal", "scale": {"domain": ["Con Inhibitor Con", "Con Inhibitor Thrombin", "Con Inhibitor Thrombin SDF", "miR-126 Inhibitor Con", "miR-126 Inhibitor Thrombin", "miR-126 Inhibitor Thrombin SDF"], "range": ["circle", "square", "triangle-up", "triangle-down", "diamond", "triangle-up"]}, "legend": null}}},
  {"data": {"values": [{"t": 3.034, "v": 0.943, "lab": "#"}, {"t": 3.034, "v": 0.887, "lab": "*"}, {"t": 3.103, "v": 0.881, "lab": "$"}]},
   "mark": {"type": "text", "align": "left", "baseline": "middle", "fontSize": 22, "fontWeight": "bold", "font": "Liberation Sans", "color": "black"},
   "encoding": {"y": {"field": "v", "type": "quantitative", "title": "Impedance"}, "text": {"field": "lab"}}}
 ]
},
{
 "width": 808, "height": 582,
 "title": {"text": "B", "anchor": "start", "frame": "bounds", "fontSize": 36, "baseline": "top", "offset": 0, "dx": -10, "dy": 36},
 "data": {"name": "B"},
 "encoding": {
  "x": {"field": "t", "type": "quantitative", "title": "hours", "scale": {"domain": [0, 3], "nice": false, "zero": false}, "axis": {"values": [0, 1, 2, 3], "format": "d"}}
 },
 "layer": [
  {"mark": {"type": "rule", "strokeWidth": 1.8},
   "encoding": {"y": {"field": "v", "type": "quantitative", "title": "Impedance", "scale": {"domain": [0.4, 1.2], "nice": false, "zero": false}, "axis": {"values": [0.4, 0.6, 0.8, 1.0, 1.2], "format": ".1f"}}, "y2": {"field": "lo"},
    "stroke": {"field": "s", "type": "nominal", "scale": {"domain": ["Con Inhibitor Con", "Con Inhibitor Thrombin", "Con Inhibitor Thrombin CTCE", "miR-126 Inhibitor Con", "miR-126 Inhibitor Thrombin", "miR126 Inhibitor Thrombin CTCE", "_"], "range": ["#5cbf47", "#ee3a45", "#3b50a3", "#1e6b31", "#000000", "#292a7d", "#ffffff"]},
     "legend": {"values": ["Con Inhibitor Con", "Con Inhibitor Thrombin", "Con Inhibitor Thrombin CTCE", "miR-126 Inhibitor Con", "miR-126 Inhibitor Thrombin", "miR126 Inhibitor Thrombin CTCE"], "legendX": 322, "legendY": 353, "symbolType": "stroke", "symbolSize": 1156, "symbolStrokeWidth": 3, "labelExpr": "''", "labelOffset": 15.5}}}},
  {"mark": {"type": "tick", "orient": "horizontal", "thickness": 1.8, "size": 11},
   "encoding": {"y": {"field": "lo", "type": "quantitative", "title": "Impedance"},
    "color": {"field": "s", "type": "nominal", "scale": {"domain": ["Con Inhibitor Con", "Con Inhibitor Thrombin", "Con Inhibitor Thrombin CTCE", "miR-126 Inhibitor Con", "miR-126 Inhibitor Thrombin", "miR126 Inhibitor Thrombin CTCE"], "range": ["#5cbf47", "#ee3a45", "#3b50a3", "#1e6b31", "#000000", "#292a7d"]},
     "legend": {"legendX": 329.5, "legendY": 353, "symbolSize": 85, "labelOffset": 22.5}}}},
  {"mark": {"type": "line", "strokeWidth": 3},
   "encoding": {"y": {"field": "v", "type": "quantitative", "title": "Impedance"},
    "stroke": {"field": "s", "type": "nominal", "scale": {"domain": ["Con Inhibitor Con", "Con Inhibitor Thrombin", "Con Inhibitor Thrombin CTCE", "miR-126 Inhibitor Con", "miR-126 Inhibitor Thrombin", "miR126 Inhibitor Thrombin CTCE", "_"], "range": ["#5cbf47", "#ee3a45", "#3b50a3", "#1e6b31", "#000000", "#292a7d", "#ffffff"]},
     "legend": {"values": ["Con Inhibitor Con", "Con Inhibitor Thrombin", "Con Inhibitor Thrombin CTCE", "miR-126 Inhibitor Con", "miR-126 Inhibitor Thrombin", "miR126 Inhibitor Thrombin CTCE"], "legendX": 322, "legendY": 353, "symbolType": "stroke", "symbolSize": 1156, "symbolStrokeWidth": 3, "labelExpr": "''", "labelOffset": 15.5}}}},
  {"mark": {"type": "point", "filled": true, "opacity": 1, "size": 85},
   "encoding": {"y": {"field": "v", "type": "quantitative", "title": "Impedance"},
    "color": {"field": "s", "type": "nominal", "scale": {"domain": ["Con Inhibitor Con", "Con Inhibitor Thrombin", "Con Inhibitor Thrombin CTCE", "miR-126 Inhibitor Con", "miR-126 Inhibitor Thrombin", "miR126 Inhibitor Thrombin CTCE"], "range": ["#5cbf47", "#ee3a45", "#3b50a3", "#1e6b31", "#000000", "#292a7d"]},
     "legend": {"legendX": 329.5, "legendY": 353, "symbolSize": 85, "labelOffset": 22.5}},
    "shape": {"field": "s", "type": "nominal", "scale": {"domain": ["Con Inhibitor Con", "Con Inhibitor Thrombin", "Con Inhibitor Thrombin CTCE", "miR-126 Inhibitor Con", "miR-126 Inhibitor Thrombin", "miR126 Inhibitor Thrombin CTCE"], "range": ["circle", "square", "triangle-down", "diamond", "triangle-up", "diamond"]}, "legend": null}}},
  {"data": {"values": [{"t": 3.026, "v": 0.975, "lab": "#"}, {"t": 3.026, "v": 0.935, "lab": "$"}, {"t": 3.026, "v": 0.893, "lab": "*"}]},
   "mark": {"type": "text", "align": "left", "baseline": "middle", "fontSize": 22, "fontWeight": "bold", "font": "Liberation Sans", "color": "black"},
   "encoding": {"y": {"field": "v", "type": "quantitative", "title": "Impedance"}, "text": {"field": "lab"}}}
 ]
}
]
}
